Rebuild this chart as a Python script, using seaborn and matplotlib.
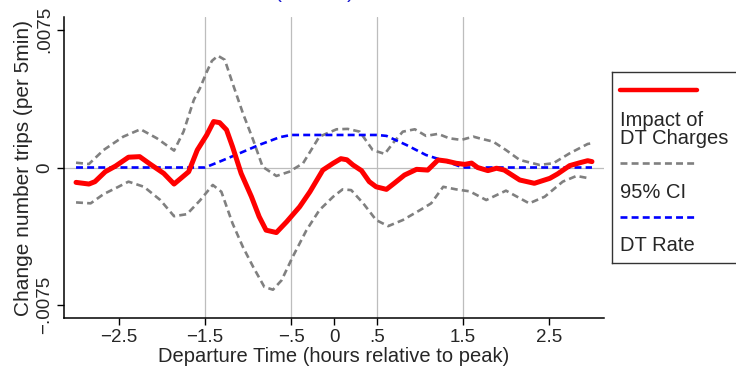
import numpy as np
import pandas as pd
import matplotlib
matplotlib.use("Agg")
import matplotlib.pyplot as plt
import seaborn as sns

# values (y in thousandths of trips per 5 min)
impact_x = [-3.0, -2.85, -2.78, -2.66, -2.54, -2.39, -2.26, -2.14, -1.98, -1.86,
            -1.69, -1.59, -1.48, -1.40, -1.33, -1.25, -1.18, -1.08, -0.96, -0.87,
            -0.79, -0.67, -0.55, -0.40, -0.28, -0.13, -0.01, 0.08, 0.15, 0.22,
            0.32, 0.41, 0.49, 0.61, 0.70, 0.82, 0.96, 1.09, 1.21, 1.31,
            1.42, 1.52, 1.60, 1.67, 1.79, 1.89, 1.98, 2.16, 2.33, 2.51,
            2.60, 2.74, 2.86, 2.95, 3.0]
impact_y = [-0.81, -0.90, -0.77, -0.23, 0.08, 0.56, 0.59, 0.19, -0.32, -0.90,
            -0.23, 0.95, 1.77, 2.50, 2.44, 2.05, 1.13, -0.32, -1.59, -2.68,
            -3.41, -3.54, -2.95, -2.14, -1.32, -0.14, 0.23, 0.48, 0.42, 0.14,
            -0.17, -0.77, -1.05, -1.19, -0.86, -0.41, -0.10, -0.14, 0.41, 0.35,
            0.23, 0.17, 0.24, 0.0, -0.17, -0.04, -0.14, -0.68, -0.86, -0.59,
            -0.35, 0.10, 0.26, 0.37, 0.32]

upper_x = [-3.0, -2.85, -2.68, -2.45, -2.25, -2.06, -1.86, -1.75, -1.63, -1.56,
           -1.48, -1.42, -1.35, -1.27, -1.18, -1.06, -0.94, -0.83, -0.67, -0.52,
           -0.36, -0.17, 0.03, 0.16, 0.30, 0.45, 0.59, 0.70, 0.80, 0.94,
           1.07, 1.21, 1.34, 1.48, 1.62, 1.69, 1.85, 2.00, 2.16, 2.39,
           2.55, 2.74, 2.95, 3.0]
upper_y = [0.26, 0.19, 0.95, 1.68, 2.08, 1.59, 0.92, 1.95, 3.68, 4.30,
           5.20, 5.80, 6.08, 5.86, 4.59, 2.96, 1.50, 0.04, -0.46, -0.23,
           0.23, 1.68, 2.08, 2.10, 1.95, 0.95, 0.74, 1.41, 1.95, 2.08,
           1.72, 1.83, 1.59, 1.50, 1.68, 1.59, 1.41, 0.95, 0.41, 0.14,
           0.23, 0.77, 1.28, 1.32]

lower_x = [-3.0, -2.83, -2.68, -2.52, -2.39, -2.21, -2.02, -1.86, -1.71, -1.56,
           -1.41, -1.31, -1.18, -1.06, -0.94, -0.81, -0.71, -0.61, -0.48, -0.32,
           -0.17, -0.01, 0.10, 0.20, 0.34, 0.49, 0.63, 0.80, 1.00, 1.13,
           1.27, 1.42, 1.58, 1.77, 2.00, 2.27, 2.45, 2.66, 2.82, 2.97]
lower_y = [-1.90, -1.95, -1.45, -1.08, -0.77, -1.05, -1.77, -2.65, -2.54, -1.80,
           -0.95, -1.32, -3.04, -4.32, -5.41, -6.50, -6.65, -6.14, -4.86, -3.41,
           -2.32, -1.59, -1.19, -1.23, -1.95, -2.86, -3.19, -2.86, -2.32, -1.95,
           -1.05, -1.19, -1.30, -1.77, -1.26, -1.95, -1.59, -0.77, -0.46, -0.59]

rate_x = [-3.0, -1.5, -1.33, -1.10, -0.87, -0.63, -0.5, 0.5, 0.61, 0.84,
          1.07, 1.31, 1.5, 3.0]
rate_y = [0.0, 0.0, 0.32, 0.77, 1.23, 1.65, 1.77, 1.77, 1.72, 1.23,
          0.68, 0.32, 0.0, 0.0]

xticks = [-2.5, -1.5, -0.5, 0, 0.5, 1.5, 2.5]
xtick_labels = ["\u22122.5", "\u22121.5", "\u2212.5", "0", ".5", "1.5", "2.5"]
yticks = [-0.0075, 0, 0.0075]
ytick_labels = ["\u2212.0075", "0", ".0075"]
vlines = [-1.5, -0.5, 0.5, 1.5]

impact = pd.DataFrame({"x": impact_x, "y": np.array(impact_y) / 1000})
upper = pd.DataFrame({"x": upper_x, "y": np.array(upper_y) / 1000})
lower = pd.DataFrame({"x": lower_x, "y": np.array(lower_y) / 1000})
rate = pd.DataFrame({"x": rate_x, "y": np.array(rate_y) / 1000})

sns.set_style("ticks")
plt.rcParams['font.family'] = ['Liberation Sans', 'DejaVu Sans']
plt.rcParams['lines.scale_dashes'] = False

fig = plt.figure(figsize=(7.36, 3.69), dpi=100)
ax = fig.add_axes([64 / 736, 1 - 318 / 369, 540 / 736, 301 / 369])

for v in vlines:
    ax.axvline(v, color='#bdbdbd', lw=0.9, zorder=0)
ax.axhline(0, color='#bdbdbd', lw=0.9, zorder=0)

dash = (0, (5, 3))
sns.lineplot(data=upper, x="x", y="y", ax=ax, color='#808080', lw=1.9,
             linestyle=dash, errorbar=None)
sns.lineplot(data=lower, x="x", y="y", ax=ax, color='#808080', lw=1.9,
             linestyle=dash, errorbar=None)
sns.lineplot(data=rate, x="x", y="y", ax=ax, color='#0000ff', lw=1.9,
             linestyle=dash, errorbar=None)
sns.lineplot(data=impact, x="x", y="y", ax=ax, color='#ff0000', lw=3.6,
             errorbar=None)

ax.set_xlim(-3.14, 3.14)
ax.set_ylim(-0.00819, 0.00819)
ax.set_xticks(xticks)
ax.set_xticklabels(xtick_labels)
ax.set_yticks(yticks)
ax.set_yticklabels(ytick_labels, rotation=90, va='center')
ax.tick_params(axis='both', labelsize=13.5, length=5, width=1, color='black',
               pad=3)
for s in ['top', 'right']:
    ax.spines[s].set_visible(False)
for s in ['left', 'bottom']:
    ax.spines[s].set_linewidth(1.1)
    ax.spines[s].set_color('black')
ax.set_xlabel("Departure Time (hours relative to peak)", fontsize=14.5, labelpad=1)
ax.set_ylabel("Change number trips (per 5min)", fontsize=15, labelpad=2)

# blue title, cut off at the top edge as in the original
fig.text(0.427, 1 + 2.5 / 369, "(Overall)", color='#1a1ad0', fontsize=15,
         ha='center', va='baseline')

# Stata style legend: key above label
lax = fig.add_axes([612 / 736, 1 - 263 / 369, 130 / 736, 191 / 369])
lax.set_xlim(0, 1)
lax.set_ylim(0, 1)
lax.set_xticks([])
lax.set_yticks([])
for s in lax.spines.values():
    s.set_linewidth(1)
    s.set_color('#333333')
lax.plot([0.0625, 0.65], [0.906, 0.906], color='#ff0000', lw=3.2)
lax.plot([0.0625, 0.65], [0.524, 0.524], color='#808080', lw=1.9, linestyle=dash)
lax.plot([0.0625, 0.65], [0.241, 0.241], color='#0000ff', lw=1.9, linestyle=dash)
lax.text(0.0625, 0.70, "Impact of\nDT Charges", fontsize=14.5, va='center',
         ha='left', linespacing=0.95)
lax.text(0.0625, 0.369, "95% CI", fontsize=14.5, va='center', ha='left')
lax.text(0.0625, 0.094, "DT Rate", fontsize=14.5, va='center', ha='left')

fig.savefig("out.png", dpi=100)
